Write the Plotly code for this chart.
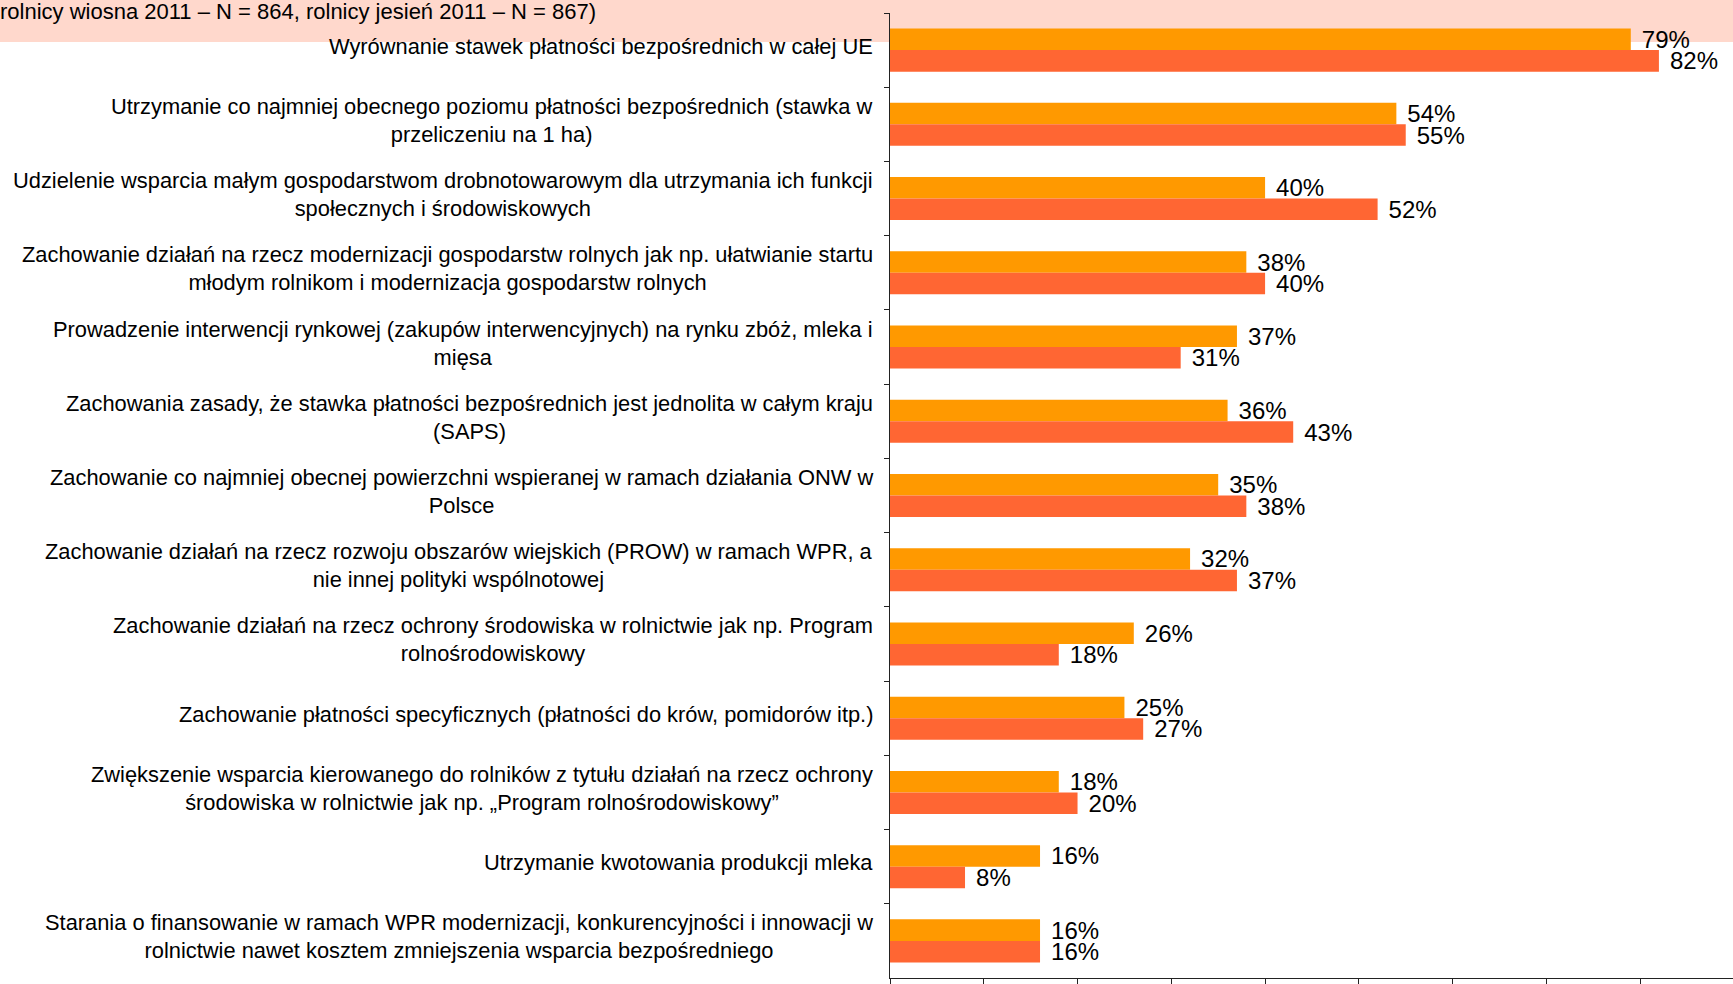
import plotly.graph_objects as go

categories = [
    "Wyrównanie stawek płatności bezpośrednich w całej UE",
    "Utrzymanie co najmniej obecnego poziomu płatności bezpośrednich (stawka w<br>przeliczeniu na 1 ha)",
    "Udzielenie wsparcia małym gospodarstwom drobnotowarowym dla utrzymania ich funkcji<br>społecznych i środowiskowych",
    "Zachowanie działań na rzecz modernizacji gospodarstw rolnych jak np. ułatwianie startu<br>młodym rolnikom i modernizacja gospodarstw rolnych",
    "Prowadzenie interwencji rynkowej (zakupów interwencyjnych) na rynku zbóż, mleka i<br>mięsa",
    "Zachowania zasady, że stawka płatności bezpośrednich jest jednolita w całym kraju<br>(SAPS)",
    "Zachowanie co najmniej obecnej powierzchni wspieranej w ramach działania ONW w<br>Polsce",
    "Zachowanie działań na rzecz rozwoju obszarów wiejskich (PROW) w ramach WPR, a<br>nie innej polityki wspólnotowej",
    "Zachowanie działań na rzecz ochrony środowiska w rolnictwie jak np. Program<br>rolnośrodowiskowy",
    "Zachowanie płatności specyficznych (płatności do krów, pomidorów itp.)",
    "Zwiększenie wsparcia kierowanego do rolników z tytułu działań na rzecz ochrony<br>środowiska w rolnictwie jak np. „Program rolnośrodowiskowy”",
    "Utrzymanie kwotowania produkcji mleka",
    "Starania o finansowanie w ramach WPR modernizacji, konkurencyjności i innowacji w<br>rolnictwie nawet kosztem zmniejszenia wsparcia bezpośredniego",
]
wiosna_2011 = [79, 54, 40, 38, 37, 36, 35, 32, 26, 25, 18, 16, 16]
jesien_2011 = [82, 55, 52, 40, 31, 43, 38, 37, 18, 27, 20, 8, 16]
series_names = ["rolnicy wiosna 2011", "rolnicy jesień 2011"]
header_text = "rolnicy wiosna 2011 – N = 864, rolnicy jesień 2011 – N = 867)"

FONT = "Liberation Sans, Arial, sans-serif"
W, H = 1733, 984
ML, MR, MT, MB = 890, 0, 13, 4
PW, PH = W - ML - MR, H - MT - MB

fig = go.Figure()
for name, vals, color in [(series_names[0], wiosna_2011, "#FF9900"),
                          (series_names[1], jesien_2011, "#FF6633")]:
    fig.add_trace(go.Bar(
        name=name, y=categories, x=vals, orientation="h",
        marker=dict(color=color, line=dict(width=0)),
        text=[f"\u2004{v}%" for v in vals], textposition="outside",
        textfont=dict(family=FONT, size=24, color="#000000"),
        constraintext="none", cliponaxis=False, hoverinfo="x+name",
    ))

# pink header band
fig.add_shape(type="rect", xref="paper", yref="paper", layer="below",
              x0=-ML / PW, x1=1.0,
              y0=1 - (42 - MT) / PH, y1=1 + MT / PH,
              fillcolor="#FFD8CC", line=dict(width=0))

annotations = [dict(
    text=header_text, xref="paper", yref="paper",
    x=-(ML + 2) / PW, y=1 + (MT - 11) / PH, xanchor="left", yanchor="middle",
    showarrow=False, font=dict(family=FONT, size=22, color="#000000"))]

for c in categories:
    annotations.append(dict(
        text=c, xref="paper", yref="y", x=0, y=c, xanchor="right", yanchor="middle",
        xshift=-15, yshift=4, align="center", showarrow=False,
        font=dict(family=FONT, size=21.85, color="#000000")))

fig.update_layout(
    width=W, height=H, margin=dict(l=ML, r=MR, t=MT, b=MB, pad=0),
    barmode="group", bargap=0.42, bargroupgap=0,
    plot_bgcolor="#FFFFFF", paper_bgcolor="#FFFFFF",
    showlegend=False, annotations=annotations,
    xaxis=dict(range=[0, 89.9], dtick=10, tick0=0, showgrid=False, zeroline=False,
               showline=True, linecolor="#222222", linewidth=1,
               ticks="outside", ticklen=6, tickcolor="#222222", showticklabels=False),
    yaxis=dict(type="category", categoryorder="array", categoryarray=categories,
               range=[12.5, -0.5], showgrid=False, zeroline=False,
               showline=True, linecolor="#222222", linewidth=1,
               ticks="outside", ticklen=5, tickcolor="#222222", tickson="boundaries",
               showticklabels=False),
)

fig.write_html("out.html", config={"displayModeBar": False},
               post_script="document.body.style.margin='0';document.body.style.overflow='hidden';")
